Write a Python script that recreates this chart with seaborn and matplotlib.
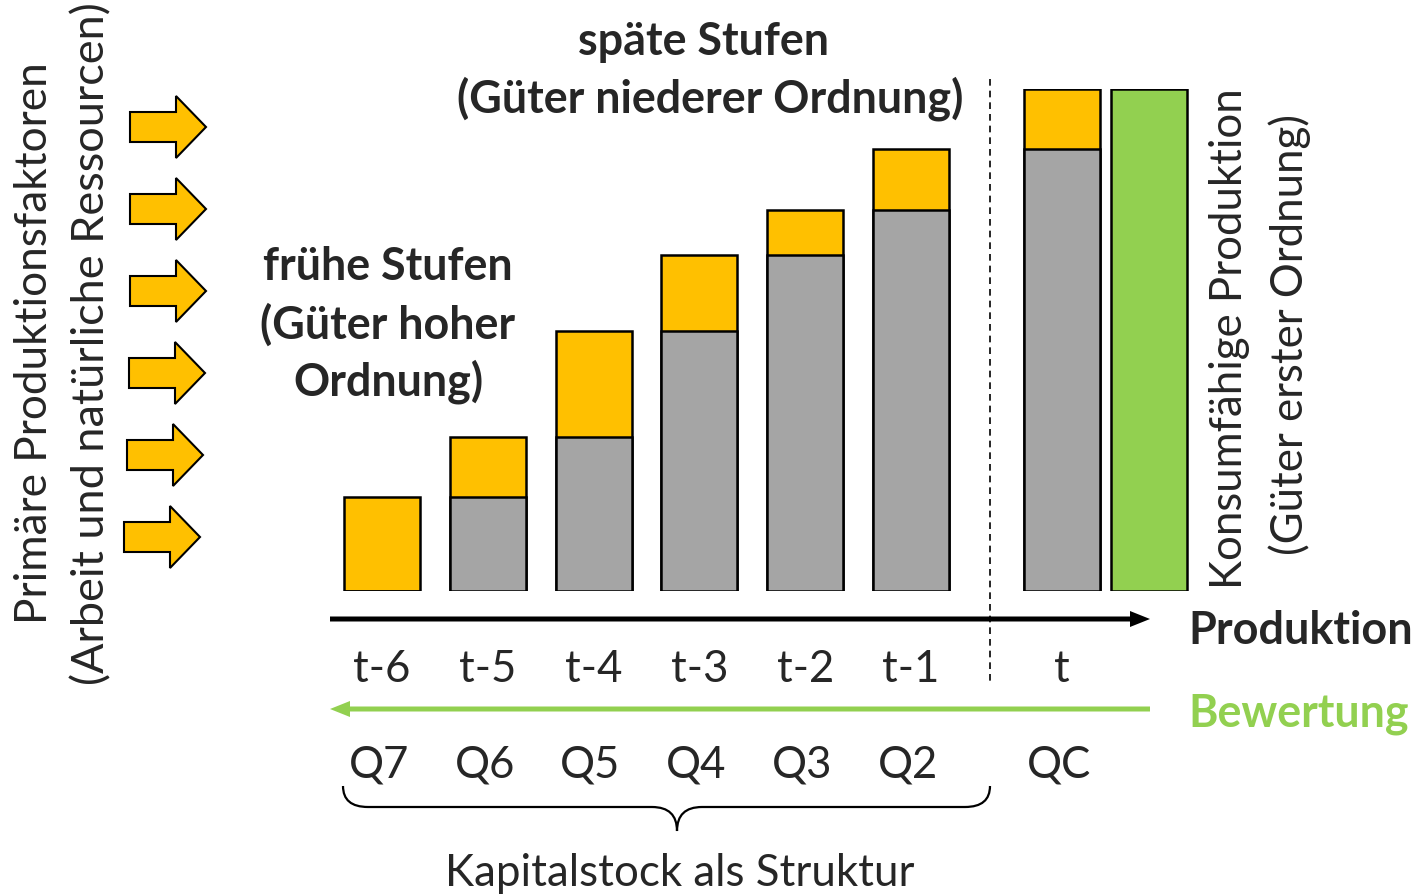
"""
Produktionsstufen / Kapitalstruktur als gestapelte Balken
"""

import numpy as np
import matplotlib.pyplot as plt
import seaborn as sns
from matplotlib.patches import FancyArrow, PathPatch
from matplotlib.path import Path

# Daten
stufen = ['t-6', 't-5', 't-4', 't-3', 't-2', 't-1', 't']
mengen = ['Q7', 'Q6', 'Q5', 'Q4', 'Q3', 'Q2', 'QC']
kapital = [0.0, 18.7, 30.7, 51.8, 66.9, 75.9, 88.0]      # grauer Sockel
zuwachs = [18.7, 12.0, 21.1, 15.1, 9.0, 12.1, 12.0]      # gelber Aufsatz
konsum = [100.0]                                         # grüner Balken

ORANGE = '#FFC000'
GRAU = '#A5A5A5'
GRUEN = '#92D050'

sns.set_theme(style='white')
plt.rcParams['font.family'] = ['Lato', 'DejaVu Sans']

W, H = 1412, 895
fig = plt.figure(figsize=(W / 100, H / 100), dpi=100)

# Overlay in Pixelkoordinaten für Pfeile und Beschriftungen
ov = fig.add_axes([0, 0, 1, 1])
ov.set_xlim(0, W)
ov.set_ylim(H, 0)
ov.axis('off')

# Balkenachse: Basislinie bei y=592 px, 100 Einheiten = 502 px
x0_px, step_px = 382, 105.8
xlim = (-0.6, 7.75)
left_px = x0_px + xlim[0] * step_px
right_px = x0_px + xlim[1] * step_px
base_px, top_px = 592, 90
ax = fig.add_axes([left_px / W, (H - base_px) / H,
                   (right_px - left_px) / W, (base_px - top_px) / H])
ax.set_xlim(*xlim)
ax.set_ylim(0, 100)
ax.axis('off')

pos = np.arange(len(stufen), dtype=float)
pos[-1] += 0.43          # Abstand vor der Konsumstufe
gesamt = np.array(kapital) + np.array(zuwachs)
bw = 0.72
ax.bar(pos, gesamt, width=bw, color=ORANGE, edgecolor='black', linewidth=1.8, zorder=2)
ax.bar(pos, kapital, width=bw, color=GRAU, edgecolor='black', linewidth=1.8, zorder=3)
ax.bar([pos[-1] + 0.82], konsum, width=bw, color=GRUEN, edgecolor='black',
       linewidth=1.8, zorder=3)

# Stufen- und Mengenbeschriftung unter den Balken
xt = ax.get_xaxis_transform()
for p, s, q in zip(pos, stufen, mengen):
    ax.text(p, -(670 - base_px) / (base_px - top_px), s, transform=xt,
            ha='center', va='center', fontsize=31.5, clip_on=False)
    ax.text(p - 0.03, -(765 - base_px) / (base_px - top_px), q, transform=xt,
            ha='center', va='center', fontsize=31.5, clip_on=False)

# Produktionspfeil und Bewertungspfeil
ov.add_patch(FancyArrow(330, 620, 820, 0, width=5, head_width=16, head_length=20,
                        length_includes_head=True, color='black', lw=0))
ov.add_patch(FancyArrow(1150, 710, -820, 0, width=5, head_width=16, head_length=20,
                        length_includes_head=True, color=GRUEN, lw=0))
ov.plot([990, 990], [80, 685], color='black', lw=1.2, ls=(0, (4, 3)))

# geschweifte Klammer
verts = [(343, 787), (343, 808), (368, 808), (652, 808), (677, 808), (677, 832),
         (677, 808), (702, 808), (965, 808), (990, 808), (990, 787)]
codes = [Path.MOVETO, Path.CURVE3, Path.CURVE3, Path.LINETO, Path.CURVE3, Path.CURVE3,
         Path.CURVE3, Path.CURVE3, Path.LINETO, Path.CURVE3, Path.CURVE3]
ov.add_patch(PathPatch(Path(verts, codes), fill=False, lw=1.6, color='black'))

# gelbe Eingangspfeile
for i, (xl, xr) in enumerate([(130, 206), (130, 206), (130, 206),
                              (129, 205), (127, 203), (124, 200)]):
    yc = 128 + i * 82
    ov.add_patch(FancyArrow(xl, yc, xr - xl, 0, width=30, head_width=62, head_length=30,
                            length_includes_head=True, facecolor=ORANGE,
                            edgecolor='black', lw=1.5))

# Texte
ov.text(680, 874, 'Kapitalstock als Struktur', ha='center', va='center', fontsize=31.6)
ov.text(1188, 631, 'Produktion', ha='left', va='center', fontsize=32.4, fontweight='bold')
ov.text(1188, 714, 'Bewertung', ha='left', va='center', fontsize=32.2,
        fontweight='bold', color=GRUEN)
ov.text(704, 42, 'späte Stufen', ha='center', va='center', fontsize=32.3, fontweight='bold')
ov.text(710, 99, '(Güter niederer Ordnung)', ha='center', va='center', fontsize=32.3,
        fontweight='bold')
for yy, line in zip([267, 325, 382], ['frühe Stufen', '(Güter hoher', 'Ordnung)']):
    ov.text(388, yy, line, ha='center', va='center', fontsize=32.3, fontweight='bold')

ov.text(35, 343, 'Primäre Produktionsfaktoren', rotation=90, ha='center', va='center',
        fontsize=31.8)
ov.text(92, 344, '(Arbeit und natürliche Ressourcen)', rotation=90, ha='center',
        va='center', fontsize=32.5)
ov.text(1230, 339, 'Konsumfähige Produktion', rotation=90, ha='center', va='center',
        fontsize=31.5)
ov.text(1290, 334, '(Güter erster Ordnung)', rotation=90, ha='center', va='center',
        fontsize=31.5)

fig.savefig('out.png', dpi=100)
